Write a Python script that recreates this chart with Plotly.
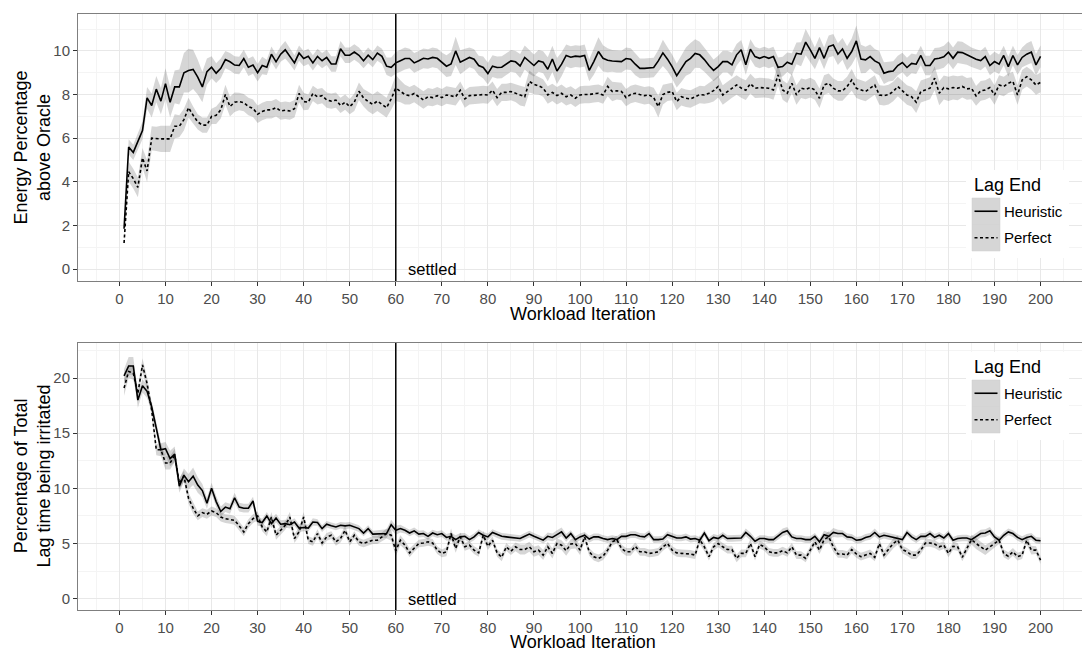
import plotly.graph_objects as go

# ---------------- data ----------------
iterations = list(range(1, 201))
x_ticks = list(range(0, 201, 10))
energy_ticks = [0, 2, 4, 6, 8, 10]
lag_ticks = [0, 5, 10, 15, 20]
series_names = ["Heuristic", "Perfect"]
settled_at = 60

energy_heuristic = [
    1.85, 5.6, 5.35, 5.85, 6.35, 7.85, 7.5, 8.25, 7.7, 8.5,
    7.65, 8.35, 8.35, 9.0, 9.1, 9.15, 8.8, 8.35, 9.05, 9.25,
    8.98, 9.2, 9.6, 9.5, 9.35, 9.33, 9.65, 9.25, 9.35, 9.0,
    9.33, 9.25, 9.85, 9.5, 9.85, 10.05, 9.75, 9.45, 9.9, 9.65,
    9.75, 9.45, 9.75, 9.55, 9.7, 9.4, 9.4, 10.1, 9.8, 9.8,
    9.95, 9.8, 9.55, 9.8, 9.6, 9.9, 9.75, 9.3, 9.25, 9.45,
    9.55, 9.65, 9.65, 9.45, 9.55, 9.66, 9.63, 9.7, 9.66, 9.48,
    9.3, 9.4, 10.0, 9.48, 9.6, 9.7, 9.62, 9.33, 9.24, 8.96,
    9.3, 9.24, 9.25, 9.4, 9.54, 9.5, 9.31, 9.7, 9.5, 9.33,
    9.54, 9.48, 9.16, 9.63, 9.08, 9.39, 9.79, 9.71, 9.76, 9.74,
    9.79, 9.11, 9.51, 9.97, 9.66, 9.57, 9.54, 9.51, 9.51, 9.65,
    9.62, 9.39, 9.2, 9.2, 9.22, 9.24, 9.54, 9.91, 9.62, 9.28,
    8.87, 9.18, 9.51, 9.66, 9.88, 9.82, 9.6, 9.33, 9.11, 9.28,
    9.51, 9.51, 9.36, 9.82, 10.05, 9.36, 10.08, 9.74, 9.66, 9.74,
    9.66, 9.74, 9.25, 9.28, 9.48, 9.39, 9.89, 9.85, 10.4, 10.05,
    9.66, 10.15, 9.66, 10.2, 10.27, 9.85, 10.09, 9.66, 9.97, 10.46,
    9.63, 9.59, 9.74, 9.54, 9.43, 8.98, 9.05, 9.08, 9.33, 9.47,
    9.24, 9.43, 9.39, 9.79, 9.33, 9.33, 9.63, 9.66, 9.73, 9.94,
    9.66, 9.94, 9.92, 9.82, 9.71, 9.62, 9.56, 9.74, 9.33, 9.51,
    9.39, 9.79, 9.28, 9.79, 9.36, 9.7, 9.85, 9.95, 9.36, 9.75,
]
energy_perfect = [
    1.2, 4.47, 4.15, 3.75, 5.1, 4.5, 6.0, 5.97, 5.97, 5.97,
    5.97, 6.55, 6.55, 6.85, 7.4, 7.05, 6.75, 6.6, 6.6, 7.0,
    7.05, 7.3, 8.0, 7.45, 7.65, 7.68, 7.63, 7.45, 7.37, 7.1,
    7.22, 7.3, 7.3, 7.4, 7.25, 7.28, 7.25, 7.35, 8.05, 7.68,
    7.65, 8.05, 7.9, 7.95, 7.75, 7.7, 7.75, 7.5, 7.65, 7.45,
    7.65, 8.15, 7.85, 7.68, 7.55, 7.7, 7.55, 7.4, 7.8, 8.3,
    8.15, 8.0, 7.95, 8.05, 7.9, 7.75, 7.9, 7.86, 7.95, 7.86,
    7.98, 7.94, 7.9, 8.2, 7.8, 7.95, 7.95, 7.98, 8.0, 7.98,
    8.2, 7.86, 8.1, 8.1, 8.14, 8.06, 7.95, 7.9, 8.6, 8.47,
    8.4, 8.3, 7.98, 8.1, 7.95, 8.06, 7.9, 7.98, 7.83, 7.98,
    8.0, 8.0, 8.04, 8.06, 7.98, 8.37, 8.14, 8.17, 8.14, 7.86,
    8.0, 8.06, 8.0, 7.95, 7.98, 7.86, 7.45, 8.0, 8.1, 8.14,
    7.68, 7.9, 7.83, 7.8, 7.9, 8.0, 7.98, 8.06, 8.18, 8.37,
    7.98, 8.14, 8.3, 8.44, 8.3, 8.2, 8.5, 8.29, 8.32, 8.32,
    8.29, 8.21, 8.9, 8.21, 8.06, 8.52, 7.98, 8.29, 8.24, 8.32,
    8.21, 7.83, 8.44, 8.52, 8.29, 8.17, 8.17, 8.37, 8.67, 8.29,
    8.21, 8.14, 8.29, 8.44, 7.98, 7.95, 8.0, 8.14, 8.37, 8.17,
    7.98, 7.9, 7.65, 8.14, 8.21, 8.29, 8.75, 8.06, 8.32, 8.26,
    8.32, 8.29, 8.37, 8.26, 8.29, 7.94, 8.17, 8.21, 8.32, 7.98,
    8.44, 8.37, 8.52, 8.6, 7.98, 8.67, 8.82, 8.67, 8.44, 8.56,
]
energy_heuristic_band = [
    0.1, 0.35, 0.35, 0.35, 0.4, 0.5, 0.55, 0.6, 0.6, 0.7,
    0.7, 0.75, 0.8, 0.9, 1.0, 0.9, 0.8, 0.7, 0.6, 0.5,
    0.45, 0.45, 0.4, 0.4, 0.4, 0.4, 0.4, 0.4, 0.4, 0.4,
    0.4, 0.35, 0.35, 0.35, 0.35, 0.4, 0.35, 0.35, 0.35, 0.35,
    0.35, 0.35, 0.35, 0.35, 0.35, 0.35, 0.35, 0.35, 0.35, 0.35,
    0.35, 0.35, 0.35, 0.35, 0.35, 0.35, 0.35, 0.4, 0.45, 0.5,
    0.5, 0.5, 0.45, 0.45, 0.45, 0.45, 0.45, 0.45, 0.45, 0.45,
    0.5, 0.55, 0.65, 0.55, 0.5, 0.45, 0.45, 0.45, 0.5, 0.5,
    0.5, 0.5, 0.5, 0.5, 0.5, 0.5, 0.55, 0.55, 0.55, 0.5,
    0.5, 0.5, 0.55, 0.6, 0.6, 0.55, 0.5, 0.5, 0.5, 0.5,
    0.5, 0.5, 0.6, 0.65, 0.6, 0.55, 0.5, 0.5, 0.5, 0.5,
    0.5, 0.5, 0.45, 0.45, 0.45, 0.45, 0.5, 0.6, 0.55, 0.55,
    0.55, 0.6, 0.65, 0.7, 0.65, 0.6, 0.55, 0.5, 0.5, 0.5,
    0.5, 0.5, 0.55, 0.5, 0.45, 0.45, 0.45, 0.45, 0.45, 0.45,
    0.45, 0.45, 0.45, 0.45, 0.45, 0.5, 0.5, 0.55, 0.6, 0.55,
    0.5, 0.5, 0.5, 0.5, 0.5, 0.5, 0.5, 0.55, 0.6, 0.7,
    0.65, 0.6, 0.55, 0.55, 0.55, 0.5, 0.45, 0.45, 0.45, 0.45,
    0.45, 0.45, 0.45, 0.45, 0.45, 0.45, 0.5, 0.5, 0.5, 0.5,
    0.5, 0.5, 0.5, 0.45, 0.45, 0.45, 0.45, 0.45, 0.45, 0.45,
    0.45, 0.45, 0.45, 0.45, 0.45, 0.45, 0.5, 0.5, 0.5, 0.5,
]
energy_perfect_band = [
    0.1, 0.45, 0.45, 0.45, 0.45, 0.5, 0.55, 0.55, 0.6, 0.6,
    0.6, 0.55, 0.5, 0.5, 0.45, 0.4, 0.35, 0.35, 0.35, 0.35,
    0.4, 0.4, 0.45, 0.45, 0.45, 0.4, 0.4, 0.4, 0.4, 0.4,
    0.4, 0.4, 0.4, 0.4, 0.4, 0.4, 0.4, 0.4, 0.4, 0.4,
    0.35, 0.35, 0.35, 0.35, 0.35, 0.35, 0.35, 0.35, 0.35, 0.35,
    0.4, 0.4, 0.4, 0.45, 0.45, 0.45, 0.45, 0.45, 0.5, 0.6,
    0.5, 0.45, 0.4, 0.4, 0.4, 0.4, 0.4, 0.4, 0.4, 0.4,
    0.4, 0.4, 0.4, 0.4, 0.4, 0.4, 0.4, 0.4, 0.4, 0.4,
    0.4, 0.4, 0.4, 0.4, 0.4, 0.4, 0.45, 0.45, 0.5, 0.45,
    0.4, 0.4, 0.4, 0.4, 0.4, 0.4, 0.4, 0.4, 0.4, 0.4,
    0.4, 0.4, 0.4, 0.4, 0.4, 0.45, 0.45, 0.4, 0.4, 0.4,
    0.4, 0.4, 0.4, 0.4, 0.4, 0.45, 0.5, 0.45, 0.4, 0.4,
    0.4, 0.4, 0.4, 0.4, 0.4, 0.4, 0.4, 0.45, 0.5, 0.5,
    0.45, 0.45, 0.45, 0.45, 0.45, 0.45, 0.45, 0.45, 0.45, 0.45,
    0.45, 0.45, 0.5, 0.45, 0.45, 0.45, 0.45, 0.45, 0.45, 0.45,
    0.45, 0.45, 0.45, 0.45, 0.45, 0.45, 0.45, 0.45, 0.5, 0.45,
    0.45, 0.45, 0.45, 0.45, 0.45, 0.45, 0.45, 0.45, 0.45, 0.45,
    0.45, 0.45, 0.5, 0.5, 0.5, 0.5, 0.55, 0.55, 0.55, 0.55,
    0.55, 0.55, 0.5, 0.5, 0.5, 0.45, 0.45, 0.45, 0.45, 0.45,
    0.45, 0.45, 0.45, 0.45, 0.45, 0.45, 0.45, 0.45, 0.45, 0.45,
]

lag_heuristic = [
    20.2, 21.1, 21.1, 18.0, 19.3, 18.8, 17.4, 15.6, 13.5, 13.6,
    12.7, 13.1, 10.2, 11.2, 10.6, 11.1, 10.3, 9.8, 8.65, 10.0,
    8.8, 7.9, 8.3, 8.15, 9.15, 8.3, 8.2, 8.2, 8.85, 7.0,
    6.9, 7.5, 6.8, 7.3, 6.75, 6.8, 6.7, 6.95, 6.4, 6.45,
    6.4, 6.95, 6.9, 6.35, 6.75, 6.6, 6.5, 6.65, 6.6, 6.65,
    6.5, 6.35, 5.95, 6.35, 5.85, 5.85, 5.85, 5.9, 6.7, 6.2,
    6.35, 6.2, 5.95, 6.15, 5.85, 5.9, 5.65, 5.95, 5.8, 5.9,
    5.55, 5.65, 5.35, 5.6, 5.65, 5.35, 5.6, 6.0, 5.75, 5.6,
    6.0, 5.8, 5.65, 5.6, 5.55, 5.5, 5.45, 5.65, 5.85, 5.65,
    5.5, 5.3, 5.65, 5.55, 5.8, 6.05, 5.5, 5.9, 5.35, 5.6,
    5.75, 5.4, 5.6, 5.6, 5.45, 5.35, 5.45, 5.35, 5.65, 5.65,
    5.8, 5.8, 5.65, 5.6, 5.9, 5.35, 5.35, 5.4, 5.8, 5.65,
    5.5, 5.5, 5.6, 5.4, 5.45, 5.3, 5.95, 5.25, 5.55, 5.45,
    5.75, 5.45, 5.45, 5.45, 5.5, 6.0, 5.65, 5.2, 5.45, 5.45,
    5.35, 5.35, 5.65, 6.0, 6.15, 5.6, 5.45, 5.45, 5.35, 5.35,
    5.65, 5.15, 5.8, 5.65, 6.0, 5.9, 5.9, 5.6, 5.55, 5.3,
    5.35, 5.55, 5.65, 6.0, 5.6, 5.75, 5.65, 5.55, 5.5, 5.35,
    6.0, 5.6, 5.35, 5.65, 5.65, 5.9, 5.55, 5.75, 5.5, 5.9,
    5.3, 5.45, 5.5, 5.5, 5.35, 5.6, 5.9, 5.95, 6.15, 5.6,
    5.3, 5.75, 6.05, 5.9, 5.55, 5.35, 5.55, 5.65, 5.3, 5.25,
]
lag_perfect = [
    19.1, 20.6, 20.45, 18.6, 21.2, 19.5, 17.1, 13.5, 13.5, 12.3,
    12.3, 13.0, 10.45, 11.1, 9.1, 8.2, 7.5, 7.8, 7.65, 7.95,
    7.8, 7.4, 7.25, 7.2, 7.1, 6.6, 6.05, 6.8, 7.25, 7.5,
    6.5, 6.05, 7.4, 5.75, 6.2, 6.65, 7.4, 5.45, 6.05, 7.4,
    5.3, 5.15, 5.9, 5.05, 5.6, 5.75, 5.15, 5.45, 6.2, 5.15,
    5.75, 5.15, 5.0, 5.15, 5.3, 5.3, 5.6, 5.9, 5.75, 4.35,
    5.3, 4.85, 4.15, 4.6, 5.0, 5.05, 5.15, 5.05, 4.4, 4.1,
    4.25, 5.9, 4.55, 5.6, 4.7, 4.85, 4.4, 4.15, 5.75, 4.75,
    5.3, 4.15, 3.75, 4.7, 4.3, 4.7, 4.45, 4.45, 4.7, 4.25,
    4.4, 3.95, 4.7, 4.1, 5.0, 4.85, 4.35, 4.95, 5.0, 4.4,
    5.6, 4.25, 3.8, 3.65, 3.85, 4.4, 5.15, 5.35, 4.55, 4.25,
    4.25, 4.75, 4.25, 4.25, 4.1, 4.15, 4.25, 4.7, 5.0, 4.4,
    4.15, 4.1, 4.1, 4.05, 3.95, 5.35, 4.7, 3.8, 4.7, 5.0,
    4.7, 4.45, 4.45, 3.65, 4.1, 4.1, 5.0, 3.8, 4.9, 4.7,
    4.25, 4.15, 4.15, 4.35, 4.15, 4.7, 3.95, 3.95, 3.65, 4.4,
    5.15, 4.4, 5.35, 5.6, 4.7, 4.05, 4.05, 3.95, 4.45, 4.05,
    3.8, 3.95, 4.1, 3.75, 5.0, 3.95, 4.45, 5.0, 5.3, 4.45,
    4.25, 3.95, 3.95, 4.4, 5.05, 5.05, 4.95, 4.7, 4.85, 4.1,
    4.75, 4.7, 3.75, 4.55, 5.35, 5.0, 4.7, 4.4, 4.7, 5.0,
    5.3, 4.1, 3.85, 4.25, 3.8, 3.95, 5.3, 4.4, 4.4, 3.5,
]
lag_heuristic_band = [
    0.6, 0.8, 0.8, 0.7, 0.6, 0.6, 0.5, 0.5, 0.6, 0.6,
    0.7, 0.7, 0.6, 0.6, 0.7, 0.8, 0.7, 0.6, 0.5, 0.5,
    0.5, 0.45, 0.45, 0.45, 0.45, 0.4, 0.4, 0.4, 0.4, 0.4,
    0.35, 0.35, 0.4, 0.4, 0.35, 0.35, 0.35, 0.35, 0.35, 0.35,
    0.3, 0.35, 0.3, 0.3, 0.3, 0.3, 0.3, 0.3, 0.3, 0.3,
    0.3, 0.3, 0.3, 0.3, 0.3, 0.35, 0.35, 0.4, 0.45, 0.4,
    0.35, 0.3, 0.3, 0.3, 0.3, 0.3, 0.3, 0.3, 0.3, 0.3,
    0.3, 0.35, 0.4, 0.35, 0.3, 0.3, 0.3, 0.3, 0.3, 0.3,
    0.3, 0.3, 0.3, 0.3, 0.3, 0.3, 0.3, 0.3, 0.3, 0.3,
    0.3, 0.3, 0.35, 0.35, 0.4, 0.4, 0.35, 0.3, 0.3, 0.3,
    0.3, 0.3, 0.3, 0.3, 0.3, 0.3, 0.3, 0.3, 0.3, 0.3,
    0.3, 0.3, 0.3, 0.3, 0.3, 0.3, 0.3, 0.3, 0.3, 0.3,
    0.3, 0.3, 0.3, 0.3, 0.3, 0.3, 0.3, 0.3, 0.3, 0.3,
    0.3, 0.3, 0.3, 0.3, 0.3, 0.35, 0.35, 0.3, 0.3, 0.3,
    0.3, 0.3, 0.3, 0.35, 0.35, 0.3, 0.3, 0.3, 0.3, 0.3,
    0.3, 0.3, 0.35, 0.35, 0.4, 0.35, 0.3, 0.3, 0.3, 0.3,
    0.3, 0.3, 0.3, 0.35, 0.3, 0.3, 0.3, 0.3, 0.3, 0.3,
    0.3, 0.3, 0.3, 0.3, 0.3, 0.3, 0.3, 0.3, 0.3, 0.3,
    0.3, 0.3, 0.3, 0.3, 0.3, 0.35, 0.35, 0.35, 0.35, 0.3,
    0.3, 0.3, 0.3, 0.3, 0.3, 0.3, 0.3, 0.3, 0.3, 0.3,
]
lag_perfect_band = [
    0.7, 0.6, 0.6, 0.6, 0.6, 0.6, 0.5, 0.5, 0.6, 0.6,
    0.6, 0.6, 0.5, 0.5, 0.5, 0.5, 0.4, 0.4, 0.4, 0.4,
    0.4, 0.4, 0.4, 0.4, 0.4, 0.4, 0.4, 0.4, 0.4, 0.4,
    0.4, 0.4, 0.45, 0.4, 0.4, 0.4, 0.45, 0.4, 0.4, 0.45,
    0.35, 0.35, 0.4, 0.35, 0.35, 0.35, 0.35, 0.35, 0.4, 0.35,
    0.35, 0.35, 0.35, 0.35, 0.35, 0.35, 0.4, 0.45, 0.5, 0.5,
    0.45, 0.4, 0.4, 0.35, 0.35, 0.35, 0.35, 0.35, 0.35, 0.35,
    0.4, 0.45, 0.4, 0.4, 0.35, 0.35, 0.35, 0.35, 0.4, 0.35,
    0.35, 0.35, 0.35, 0.35, 0.35, 0.4, 0.45, 0.45, 0.45, 0.45,
    0.45, 0.45, 0.45, 0.45, 0.45, 0.45, 0.45, 0.45, 0.45, 0.45,
    0.4, 0.35, 0.35, 0.35, 0.35, 0.35, 0.35, 0.35, 0.35, 0.35,
    0.35, 0.35, 0.35, 0.35, 0.35, 0.35, 0.35, 0.35, 0.35, 0.35,
    0.35, 0.35, 0.35, 0.35, 0.35, 0.4, 0.4, 0.35, 0.35, 0.35,
    0.35, 0.35, 0.35, 0.35, 0.35, 0.35, 0.4, 0.35, 0.35, 0.35,
    0.35, 0.35, 0.35, 0.35, 0.35, 0.35, 0.35, 0.35, 0.35, 0.35,
    0.35, 0.35, 0.45, 0.5, 0.45, 0.35, 0.35, 0.35, 0.35, 0.35,
    0.35, 0.35, 0.35, 0.35, 0.4, 0.4, 0.45, 0.45, 0.4, 0.35,
    0.35, 0.35, 0.35, 0.35, 0.35, 0.35, 0.35, 0.35, 0.35, 0.35,
    0.35, 0.35, 0.35, 0.35, 0.45, 0.5, 0.5, 0.45, 0.4, 0.35,
    0.35, 0.35, 0.35, 0.35, 0.35, 0.35, 0.4, 0.4, 0.35, 0.35,
]

for arr in (energy_heuristic, energy_perfect, energy_heuristic_band, energy_perfect_band,
            lag_heuristic, lag_perfect, lag_heuristic_band, lag_perfect_band):
    assert len(arr) == len(iterations), len(arr)

# ---------------- layout geometry ----------------
W, H = 1082, 653
ML, MR, MT, MB = 78, 0, 14, 43
PW, PH = W - ML - MR, H - MT - MB


def px(x):
    return (x - ML) / PW


def py(y):
    return (H - MB - y) / PH


FONT = "Liberation Sans, Arial, Helvetica, sans-serif"
RIBBON = "rgba(51,51,51,0.2)"
KEYFILL = "#d6d6d6"

fig = go.Figure()


def add_panel(xa, ya, heur, perf, hband, pband):
    for mean, band in ((heur, hband), (perf, pband)):
        hi = [m + b for m, b in zip(mean, band)]
        lo = [m - b for m, b in zip(mean, band)]
        fig.add_trace(go.Scatter(
            x=iterations + iterations[::-1], y=hi + lo[::-1],
            fill="toself", fillcolor=RIBBON, line=dict(width=0),
            mode="lines", hoverinfo="skip", showlegend=False,
            xaxis=xa, yaxis=ya))
    fig.add_trace(go.Scatter(
        x=iterations, y=heur, mode="lines", name=series_names[0],
        line=dict(color="black", width=1.6), showlegend=False,
        xaxis=xa, yaxis=ya))
    fig.add_trace(go.Scatter(
        x=iterations, y=perf, mode="lines", name=series_names[1],
        line=dict(color="black", width=1.6, dash="3px,2.5px"), showlegend=False,
        xaxis=xa, yaxis=ya))


add_panel("x", "y", energy_heuristic, energy_perfect, energy_heuristic_band, energy_perfect_band)
add_panel("x2", "y2", lag_heuristic, lag_perfect, lag_heuristic_band, lag_perfect_band)

axis_common = dict(
    showline=True, mirror=True, linecolor="#7f7f7f", linewidth=1,
    ticks="outside", ticklen=4, tickcolor="#333333", tickwidth=1,
    tickfont=dict(size=15, color="#4d4d4d", family=FONT),
    showgrid=True, gridcolor="#e8e8e8", gridwidth=1,
    zeroline=False, fixedrange=True, automargin=False,
)

x_common = dict(axis_common, range=[-9.0, 209.0], tickmode="array", tickvals=x_ticks,
                minor=dict(tickmode="linear", tick0=-5, dtick=10, showgrid=True,
                           gridcolor="#f4f4f4", gridwidth=1, ticks=""))

fig.update_layout(
    width=W, height=H,
    margin=dict(l=ML, r=MR, t=MT, b=MB, pad=0, autoexpand=False),
    paper_bgcolor="white", plot_bgcolor="white",
    font=dict(family=FONT, color="black"),
    showlegend=False,
    xaxis=dict(x_common, domain=[0, 1], anchor="y"),
    yaxis=dict(axis_common, domain=[py(281), 1], anchor="x", range=[-0.54, 11.69],
               tickmode="array", tickvals=energy_ticks,
               minor=dict(tickmode="linear", tick0=1, dtick=2, showgrid=True,
                          gridcolor="#f4f4f4", gridwidth=1, ticks="")),
    xaxis2=dict(x_common, domain=[0, 1], anchor="y2"),
    yaxis2=dict(axis_common, domain=[0, py(343)], anchor="x2", range=[-1.03, 23.18],
                tickmode="array", tickvals=lag_ticks,
                minor=dict(tickmode="linear", tick0=2.5, dtick=5, showgrid=True,
                           gridcolor="#f4f4f4", gridwidth=1, ticks="")),
)

shapes = []
annotations = []

# settled lines + labels
for xa, ya in (("x", "y"), ("x2", "y2")):
    shapes.append(dict(type="line", xref=xa, yref=ya + " domain", x0=settled_at, x1=settled_at,
                       y0=0, y1=1, line=dict(color="black", width=1.5), layer="above"))
    annotations.append(dict(x=settled_at + 2.3, y=0, xref=xa, yref=ya, text="settled",
                            showarrow=False, xanchor="left", yanchor="middle",
                            font=dict(size=16.5, color="black", family=FONT)))

# axis titles
for ycen in (314, 642):
    annotations.append(dict(x=px(583), y=py(ycen), xref="paper", yref="paper",
                            text="Workload Iteration", showarrow=False,
                            xanchor="center", yanchor="middle",
                            font=dict(size=18, color="black", family=FONT)))
annotations.append(dict(x=px(32), y=py(147.5), xref="paper", yref="paper",
                        text="Energy Percentage<br>above Oracle", showarrow=False,
                        textangle=-90, xanchor="center", yanchor="middle",
                        font=dict(size=18, color="black", family=FONT)))
annotations.append(dict(x=px(32), y=py(476.5), xref="paper", yref="paper",
                        text="Percentage of Total<br>Lag time being irritated", showarrow=False,
                        textangle=-90, xanchor="center", yanchor="middle",
                        font=dict(size=18, color="black", family=FONT)))


# custom ggplot-style legends
def add_legend(top):
    # top = pixel y of legend box top
    shapes.append(dict(type="rect", xref="paper", yref="paper",
                       x0=px(966), x1=px(1069), y0=py(top + 88), y1=py(top),
                       fillcolor="white", line=dict(width=0), layer="above"))
    annotations.append(dict(x=px(972), y=py(top + 15), xref="paper", yref="paper",
                            text="Lag End", showarrow=False, xanchor="left", yanchor="middle",
                            font=dict(size=18, color="black", family=FONT)))
    for k, name in enumerate(series_names):
        y0 = top + 28 + 26.5 * k
        y1 = y0 + 26.5
        shapes.append(dict(type="rect", xref="paper", yref="paper",
                           x0=px(972), x1=px(1000), y0=py(y1), y1=py(y0),
                           fillcolor=KEYFILL, line=dict(color="#cfcfcf", width=0.5),
                           layer="above"))
        ym = (y0 + y1) / 2
        shapes.append(dict(type="line", xref="paper", yref="paper",
                           x0=px(974.5), x1=px(997.5), y0=py(ym), y1=py(ym),
                           line=dict(color="black", width=1.6,
                                     dash="solid" if k == 0 else "3px,2.5px"),
                           layer="above"))
        annotations.append(dict(x=px(1002), y=py(ym), xref="paper", yref="paper",
                                text=name, showarrow=False, xanchor="left", yanchor="middle",
                                font=dict(size=15, color="black", family=FONT)))


add_legend(170)
add_legend(352)

fig.update_layout(shapes=shapes, annotations=annotations)

# remove the default 8px page margin so the chart sits at the window's top-left corner
fig.write_html("out.html",
               config={"displayModeBar": False},
               post_script="document.body.style.margin='0';document.body.style.overflow='hidden';")
